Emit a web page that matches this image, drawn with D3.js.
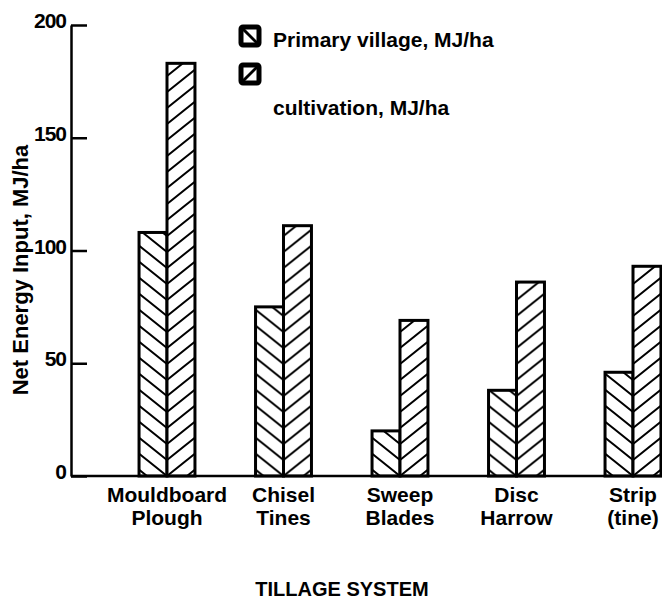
<!DOCTYPE html>
<html>
<head>
<meta charset="utf-8">
<script src="https://cdn.jsdelivr.net/npm/d3@7"></script>
<style>
  html, body { margin: 0; padding: 0; background: #fff; }
  svg { display: block; font-family: "Liberation Sans", Arial, Helvetica, sans-serif; }
</style>
</head>
<body>
<svg id="chart" width="662" height="600"></svg>
<script>
// ---- data ----
const categories = ["Mouldboard Plough", "Chisel Tines", "Sweep Blades", "Disc Harrow", "Strip (tine)"];
const labelLine1 = ["Mouldboard", "Chisel", "Sweep", "Disc", "Strip"];
const labelLine2 = ["Plough", "Tines", "Blades", "Harrow", "(tine)"];
const seriesNames = ["Primary village, MJ/ha", "cultivation, MJ/ha"];
const primary = [108, 75, 20, 38, 46];
const cultivation = [183, 111, 69, 86, 93];
const yTicks = [0, 50, 100, 150, 200];
const yLabel = "Net Energy Input, MJ/ha";
const xLabel = "TILLAGE SYSTEM";

// ---- layout ----
const W = 662, H = 600;
const svg = d3.select("#chart");
const axisX = 71;
const y = d3.scaleLinear().domain([0, 200]).range([476, 25]);
const x = d3.scaleBand().domain(categories).range([108.75, 691.25]).paddingInner(0.52).paddingOuter(0.26);
const sub = d3.scaleBand().domain(["primary", "cultivation"]).range([0, x.bandwidth()]);

const rows = categories.map((c, i) => ({ cat: c, i, primary: primary[i], cultivation: cultivation[i] }));
const bars = [];
rows.forEach(r => {
  ["primary", "cultivation"].forEach(k => bars.push({ cat: r.cat, i: r.i, key: k, value: r[k] }));
});

// ---- hatch patterns (one per bar so the chevrons meet at the divider) ----
const hatchH = 16, hatchW = 20;
const defs = svg.append("defs");
bars.forEach(b => {
  const divider = x(b.cat) + sub("cultivation");
  const p = defs.append("pattern")
    .attr("id", `hatch-${b.key}-${b.i}`)
    .attr("patternUnits", "userSpaceOnUse")
    .attr("x", divider).attr("y", y(0))
    .attr("width", hatchW).attr("height", hatchH);
  p.append("rect").attr("width", hatchW).attr("height", hatchH).attr("fill", "#fff");
  let d;
  if (b.key === "primary") {
    d = `M-2,-1.6 L${hatchW + 2},${hatchH + 1.6} M${hatchW - 3},-2.4 L${hatchW + 3},2.4 M-3,${hatchH - 2.4} L3,${hatchH + 2.4}`;
  } else {
    d = `M-2,${hatchH + 1.6} L${hatchW + 2},-1.6 M-3,2.4 L3,-2.4 M${hatchW - 3},${hatchH + 2.4} L${hatchW + 3},${hatchH - 2.4}`;
  }
  p.append("path").attr("d", d).attr("stroke", "#000").attr("stroke-width", 2).attr("fill", "none");
});

// ---- bars ----
svg.append("g").selectAll("rect").data(bars).join("rect")
  .attr("x", d => x(d.cat) + sub(d.key))
  .attr("y", d => y(d.value))
  .attr("width", sub.bandwidth())
  .attr("height", d => y(0) - y(d.value))
  .attr("fill", d => `url(#hatch-${d.key}-${d.i})`)
  .attr("stroke", "#000")
  .attr("stroke-width", 3);

// ---- y axis ----
const yAxis = d3.axisLeft(y).tickValues(yTicks).tickSizeInner(-16).tickSizeOuter(0).tickPadding(5);
const gy = svg.append("g").attr("transform", `translate(${axisX},0)`).call(yAxis);
gy.select(".domain").attr("stroke", "#000").attr("stroke-width", 2.5);
gy.selectAll(".tick line").attr("stroke", "#000").attr("stroke-width", 2.5);
gy.selectAll(".tick text")
  .attr("fill", "#000")
  .attr("font-size", 21)
  .attr("font-weight", "bold")
  .attr("font-family", "'Liberation Sans', Arial, sans-serif")
  .attr("dy", "0.12em")
  .attr("letter-spacing", -1);

// ---- x axis line ----
svg.append("line")
  .attr("x1", axisX).attr("x2", W)
  .attr("y1", y(0)).attr("y2", y(0))
  .attr("stroke", "#000").attr("stroke-width", 2.5);

// ---- category labels ----
const catG = svg.append("g").attr("font-size", 21).attr("font-weight", "bold").attr("text-anchor", "middle").attr("fill", "#000");
categories.forEach((c, i) => {
  const cx = x(c) + x.bandwidth() / 2;
  const t = catG.append("text").attr("x", cx).attr("y", 502);
  t.append("tspan").attr("x", cx).attr("y", 502).text(labelLine1[i]);
  t.append("tspan").attr("x", cx).attr("y", 525).text(labelLine2[i]);
});

// ---- axis titles ----
svg.append("text")
  .attr("transform", `translate(28,270) rotate(-90)`)
  .attr("text-anchor", "middle")
  .attr("font-size", 22)
  .attr("font-weight", "bold")
  .attr("fill", "#000")
  .text(yLabel);

svg.append("text")
  .attr("x", 342).attr("y", 596)
  .attr("text-anchor", "middle")
  .attr("font-size", 20)
  .attr("font-weight", "bold")
  .attr("fill", "#000")
  .text(xLabel);

// ---- legend ----
const legend = svg.append("g");
const icons = [
  { key: "primary", y: 27, d: "M0,0 L18,18" },
  { key: "cultivation", y: 65, d: "M0,18 L18,0" }
];
icons.forEach(ic => {
  const g = legend.append("g").attr("transform", `translate(241,${ic.y})`);
  g.append("rect").attr("width", 18).attr("height", 18).attr("rx", 2)
    .attr("fill", "#fff").attr("stroke", "#000").attr("stroke-width", 5);
  g.append("path").attr("d", ic.d).attr("stroke", "#000").attr("stroke-width", 3);
});
legend.append("text").attr("x", 273).attr("y", 47)
  .attr("font-size", 21).attr("font-weight", "bold").attr("fill", "#000")
  .text(seriesNames[0]);
legend.append("text").attr("x", 273).attr("y", 115)
  .attr("font-size", 21).attr("font-weight", "bold").attr("fill", "#000")
  .text(seriesNames[1]);
</script>
</body>
</html>
